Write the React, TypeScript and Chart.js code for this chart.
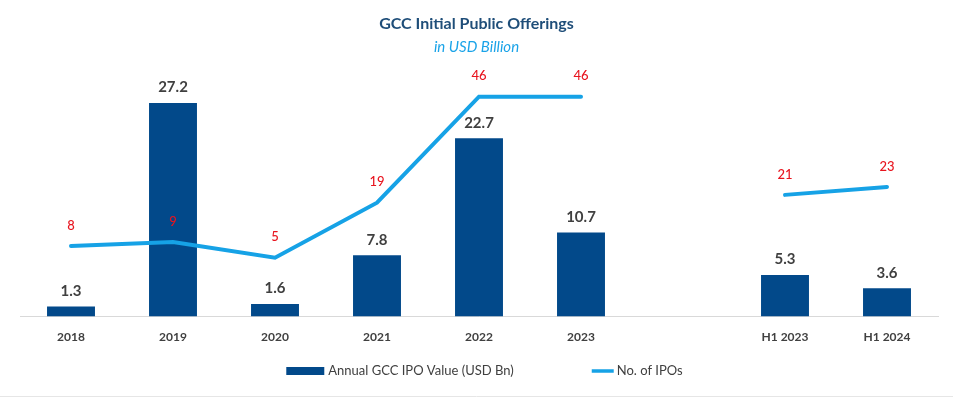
import React, { useEffect, useRef } from "react";
import { Chart, registerables } from "chart.js";

Chart.register(...registerables);

const categories = ["2018", "2019", "2020", "2021", "2022", "2023", "", "H1 2023", "H1 2024"];
const ipoValues: (number | null)[] = [1.3, 27.2, 1.6, 7.8, 22.7, 10.7, null, 5.3, 3.6];
const ipoCounts: (number | null)[] = [8, 9, 5, 19, 46, 46, null, 21, 23];
const titleText = "GCC Initial Public Offerings";
const subtitleText = "in USD Billion";
const barLabel = "Annual GCC IPO Value (USD Bn)";
const lineLabel = "No. of IPOs";

const BAR_COLOR = "#02498A";
const LINE_COLOR = "#16A2E6";
const FONT = "Lato, 'Open Sans', sans-serif";

const overlayPlugin = {
  id: "overlay",
  afterDatasetsDraw(chart: any) {
    const ctx = chart.ctx;
    ctx.save();
    const barMeta = chart.getDatasetMeta(0);
    ctx.font = `bold 15px ${FONT}`;
    ctx.fillStyle = "#404040";
    ctx.textAlign = "center";
    ctx.textBaseline = "bottom";
    barMeta.data.forEach((el: any, i: number) => {
      const v = ipoValues[i];
      if (v == null) return;
      ctx.fillText(v.toFixed(1), el.x, el.y - 8);
    });
    const lineMeta = chart.getDatasetMeta(1);
    ctx.font = `500 13px ${FONT}`;
    ctx.fillStyle = "#E8141E";
    lineMeta.data.forEach((el: any, i: number) => {
      const v = ipoCounts[i];
      if (v == null) return;
      ctx.fillText(String(v), el.x, el.y - 14);
    });
    ctx.restore();
  },
  afterDraw(chart: any) {
    const ctx = chart.ctx;
    const w = chart.width;
    ctx.save();
    // titles
    ctx.textAlign = "center";
    ctx.textBaseline = "middle";
    ctx.font = `bold 16px ${FONT}`;
    ctx.fillStyle = "#1F4E79";
    ctx.fillText(titleText, w / 2, 24);
    ctx.font = `italic 15px ${FONT}`;
    ctx.fillStyle = "#1AA3E8";
    ctx.fillText(subtitleText, w / 2, 47);
    // legend
    ctx.font = `13px ${FONT}`;
    const t1 = ctx.measureText(barLabel).width;
    const t2 = ctx.measureText(lineLabel).width;
    const sw1 = 38, sw2 = 22, gap = 78;
    const total = sw1 + 4 + t1 + gap + sw2 + 3 + t2;
    let x = w / 2 + 8 - total / 2;
    const y = 371;
    ctx.fillStyle = BAR_COLOR;
    ctx.fillRect(x, y - 4, sw1, 8);
    x += sw1 + 4;
    ctx.fillStyle = "#404040";
    ctx.textAlign = "left";
    ctx.fillText(barLabel, x, y);
    x += t1 + gap;
    ctx.strokeStyle = LINE_COLOR;
    ctx.lineWidth = 3.5;
    ctx.beginPath();
    ctx.moveTo(x, y);
    ctx.lineTo(x + sw2, y);
    ctx.stroke();
    x += sw2 + 3;
    ctx.fillText(lineLabel, x, y);
    // bottom faint border
    ctx.strokeStyle = "#E6E6E6";
    ctx.lineWidth = 1;
    ctx.beginPath();
    ctx.moveTo(0, 396.5);
    ctx.lineTo(w, 396.5);
    ctx.stroke();
    ctx.restore();
  },
};

export default function App() {
  const ref = useRef<HTMLCanvasElement>(null);
  useEffect(() => {
    document.body.style.margin = "0";
    const chart = new Chart(ref.current!, {
      type: "bar",
      data: {
        labels: categories,
        datasets: [
          {
            type: "bar",
            label: barLabel,
            data: ipoValues,
            backgroundColor: BAR_COLOR,
            yAxisID: "y",
            categoryPercentage: 1,
            barPercentage: 0.47,
            order: 1,
          },
          {
            type: "line",
            label: lineLabel,
            data: ipoCounts,
            borderColor: LINE_COLOR,
            backgroundColor: LINE_COLOR,
            borderWidth: 4,
            pointRadius: 0,
            borderCapStyle: "round",
            borderJoinStyle: "miter",
            spanGaps: false,
            tension: 0,
            yAxisID: "y2",
            order: 0,
          },
        ],
      } as any,
      options: {
        animation: false,
        responsive: false,
        layout: { padding: { top: 81, left: 20, right: 15, bottom: 50 } },
        plugins: {
          legend: { display: false },
          tooltip: { enabled: false },
          title: { display: false },
        },
        scales: {
          x: {
            grid: { display: false },
            border: { display: true, color: "#D9D9D9", width: 1 },
            ticks: {
              color: "#404040",
              font: { family: FONT, size: 12, weight: "bold" },
              padding: 5,
              autoSkip: false,
              maxRotation: 0,
            },
          },
          y: { display: false, min: 0, max: 30 },
          y2: { display: false, min: -10, max: 50, position: "right" },
        },
      } as any,
      plugins: [overlayPlugin],
    });
    return () => chart.destroy();
  }, []);
  return <canvas ref={ref} width={953} height={399} style={{ display: "block" }} />;
}
